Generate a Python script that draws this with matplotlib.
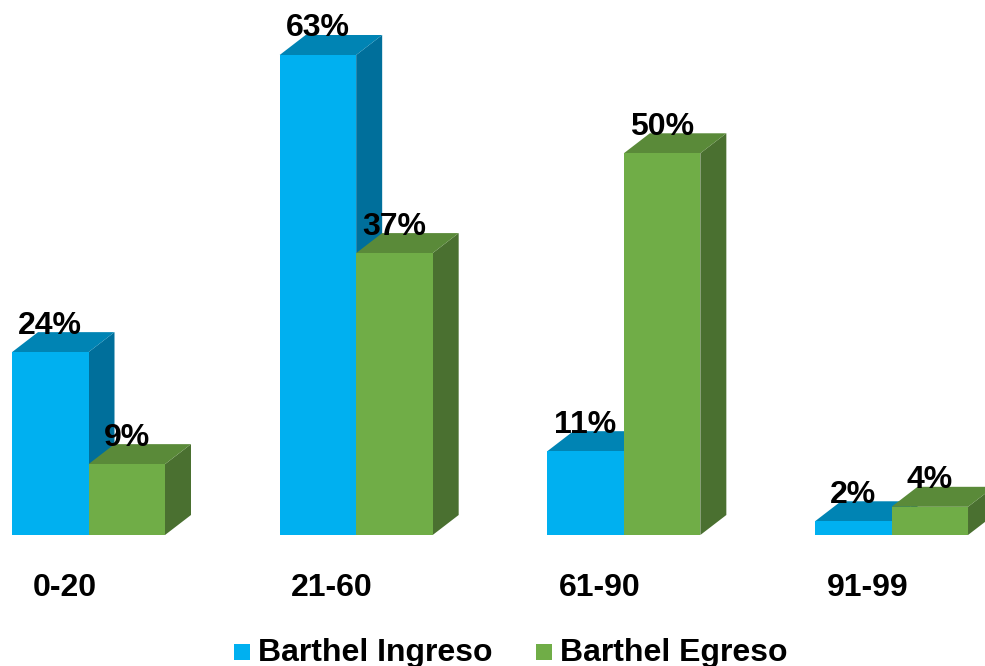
import matplotlib
matplotlib.use("Agg")
import matplotlib.pyplot as plt
from matplotlib.patches import Polygon, Rectangle

categories = ["0-20", "21-60", "61-90", "91-99"]
ingreso = [24.0, 63.0, 11.0, 1.8]
egreso = [9.3, 37.0, 50.1, 3.7]
ingreso_labels = ["24%", "63%", "11%", "2%"]
egreso_labels = ["9%", "37%", "50%", "4%"]
series_names = ["Barthel Ingreso", "Barthel Egreso"]

W, H = 985, 666
plt.rcParams["font.family"] = ["Liberation Sans", "DejaVu Sans"]
fig = plt.figure(figsize=(W / 100, H / 100), dpi=100)
ax = fig.add_axes([0, 0, 1, 1])
PX_X = 267.67
PX_Y = 480 / 63
ax.set_xlim(-88.5 / PX_X, (W - 88.5) / PX_X)
ax.set_ylim(-(H - 535) / PX_Y, 535 / PX_Y)
ax.axis("off")

bw = 76.5 / PX_X
dx = 26 / PX_X
dy = 20 / PX_Y

def bar3d(left, val, front, top, side, z):
    right = left + bw
    ax.add_patch(Polygon([(right, 0), (right + dx, dy), (right + dx, val + dy), (right, val)], fc=side, ec="none", zorder=z))
    ax.add_patch(Polygon([(left, val), (left + dx, val + dy), (right + dx, val + dy), (right, val)], fc=top, ec="none", zorder=z))
    ax.add_patch(Rectangle((left, 0), bw, val, fc=front, ec="none", zorder=z + 0.1))

blue = ("#00B0F0", "#0084B4", "#006F9B")
green = ("#70AD47", "#5A8A39", "#4A7030")
for i, cat in enumerate(categories):
    bar3d(i - bw, ingreso[i], *blue, z=2)
    bar3d(i, egreso[i], *green, z=3)
    for left, v, lab in ((i - bw, ingreso[i], ingreso_labels[i]), (i, egreso[i], egreso_labels[i])):
        ax.text(left + bw / 2, v + 18.5 / PX_Y, lab, ha="center", va="baseline", fontsize=23,
                fontweight="bold", color="black", zorder=20)
    ax.text(i - 24 / PX_X, -60.5 / PX_Y, cat, ha="center", va="baseline", fontsize=23, fontweight="bold")

for x_px, c, name in ((234, blue[0], series_names[0]), (536, green[0], series_names[1])):
    x = (x_px - 88.5) / PX_X
    ax.add_patch(Rectangle((x, -(660 - 535) / PX_Y), 16 / PX_X, 16 / PX_Y, fc=c, ec="none"))
    ax.text(x + 24 / PX_X, -(660.5 - 535) / PX_Y, name, ha="left", va="baseline", fontsize=23, fontweight="bold")

fig.savefig("out.png", dpi=100)
